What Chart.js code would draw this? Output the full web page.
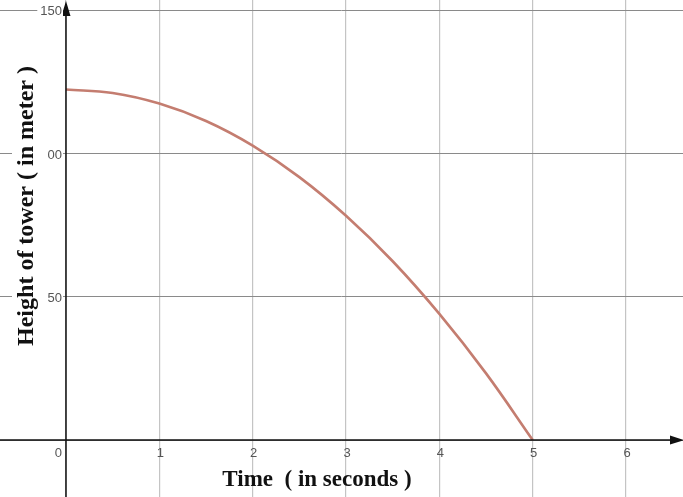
<!DOCTYPE html>
<html>
<head>
<meta charset="utf-8">
<script src="https://cdn.jsdelivr.net/npm/chart.js@4/dist/chart.umd.min.js"></script>
<style>
  html, body { margin: 0; padding: 0; background: #fff; }
  #wrap { width: 683px; height: 497px; position: relative; }
</style>
</head>
<body>
<div id="wrap"><canvas id="towerChart"></canvas></div>
<script>
// Time (s) and height (m)
const times   = [0, 0.5, 1, 1.5, 2, 2.5, 3, 3.5, 4, 4.5, 5];
const heights = [122.5, 121.3, 117.6, 111.5, 102.9, 91.9, 78.4, 62.5, 44.1, 23.3, 0];

const xTicks = [0, 1, 2, 3, 4, 5, 6];
const yTicks = [0, 50, 100, 150];
const yTickLabels = ['0', '50', '100', '150'];

const xTitle = 'Time  ( in seconds )';
const yTitle = 'Height of tower ( in meter )';

// Draws the axes with arrows, tick labels and the titles
const axesPlugin = {
    id: 'axesPlugin',
    afterDraw(chart) {
        const ctx = chart.ctx;
        const xs = chart.scales.x, ys = chart.scales.y;
        const x0 = xs.getPixelForValue(0), y0 = ys.getPixelForValue(0);
        const W = chart.width, H = chart.height;
        ctx.save();

        // axis lines
        ctx.strokeStyle = '#111';
        ctx.lineWidth = 1.5;
        ctx.beginPath();
        ctx.moveTo(x0, 4); ctx.lineTo(x0, H);
        ctx.moveTo(0, y0); ctx.lineTo(W - 6, y0);
        ctx.stroke();

        // arrow heads
        ctx.fillStyle = '#111';
        ctx.beginPath();
        ctx.moveTo(x0, 1); ctx.lineTo(x0 - 4.5, 16); ctx.lineTo(x0 + 4.5, 16);
        ctx.closePath(); ctx.fill();
        ctx.beginPath();
        ctx.moveTo(W + 1, y0); ctx.lineTo(W - 13, y0 - 4.5); ctx.lineTo(W - 13, y0 + 4.5);
        ctx.closePath(); ctx.fill();

        // tick labels
        ctx.font = '13px "Liberation Sans", Arial, sans-serif';
        ctx.fillStyle = '#555';
        ctx.textBaseline = 'middle';
        xTicks.forEach(v => {
            const px = xs.getPixelForValue(v);
            if (v === 0) {
                ctx.textAlign = 'right';
                ctx.fillText('0', px - 4, y0 + 13);
            } else {
                ctx.textAlign = 'center';
                ctx.fillText(String(v), px + 1, y0 + 13);
            }
        });
        ctx.textAlign = 'right';
        yTicks.forEach((v, i) => {
            if (v === 0) return;
            const py = ys.getPixelForValue(v);
            const label = yTickLabels[i];
            const w = ctx.measureText(label).width;
            ctx.fillStyle = '#fff';
            ctx.fillRect(x0 - 5 - w - 2, py - 7, w + 4, 14);
            ctx.fillStyle = '#555';
            ctx.fillText(label, x0 - 4, py + 1);
        });

        // y title with white box (it hides part of the 100 label, as in the original)
        ctx.font = 'bold 24px "Liberation Serif", "Times New Roman", serif';
        const tw = ctx.measureText(yTitle).width;
        const cy = 206, cx = 27;
        ctx.fillStyle = '#fff';
        ctx.fillRect(12, cy - tw / 2 - 2, 35, tw + 4);
        ctx.translate(cx, cy);
        ctx.rotate(-Math.PI / 2);
        ctx.fillStyle = '#111';
        ctx.textAlign = 'center';
        ctx.textBaseline = 'middle';
        ctx.fillText(yTitle, 0, 0);
        ctx.restore();

        // x title
        ctx.save();
        ctx.font = 'bold 23px "Liberation Serif", "Times New Roman", serif';
        ctx.fillStyle = '#111';
        ctx.textAlign = 'center';
        ctx.textBaseline = 'middle';
        ctx.fillText(xTitle, 317, 480);
        ctx.restore();
    }
};

const ctx = document.getElementById('towerChart').getContext('2d');
new Chart(ctx, {
    type: 'line',
    data: {
        datasets: [{
            data: times.map((t, i) => ({ x: t, y: heights[i] })),
            borderColor: '#c47d70',
            borderWidth: 2.6,
            pointRadius: 0,
            tension: 0.4,
            fill: false
        }]
    },
    options: {
        responsive: true,
        maintainAspectRatio: false,
        animation: false,
        layout: { padding: 0 },
        plugins: {
            legend: { display: false },
            tooltip: { enabled: false }
        },
        scales: {
            x: {
                type: 'linear',
                min: -0.707,
                max: 6.61,
                afterBuildTicks: scale => { scale.ticks = xTicks.map(v => ({ value: v })); },
                ticks: { display: false },
                border: { display: false },
                grid: { color: '#c4c4c4', lineWidth: 1.2, drawTicks: false }
            },
            y: {
                type: 'linear',
                min: -19.9,
                max: 153.8,
                afterBuildTicks: scale => { scale.ticks = yTicks.map(v => ({ value: v })); },
                ticks: { display: false },
                border: { display: false },
                grid: { color: '#8a8a8a', lineWidth: 1, drawTicks: false }
            }
        }
    },
    plugins: [axesPlugin]
});
</script>
</body>
</html>
